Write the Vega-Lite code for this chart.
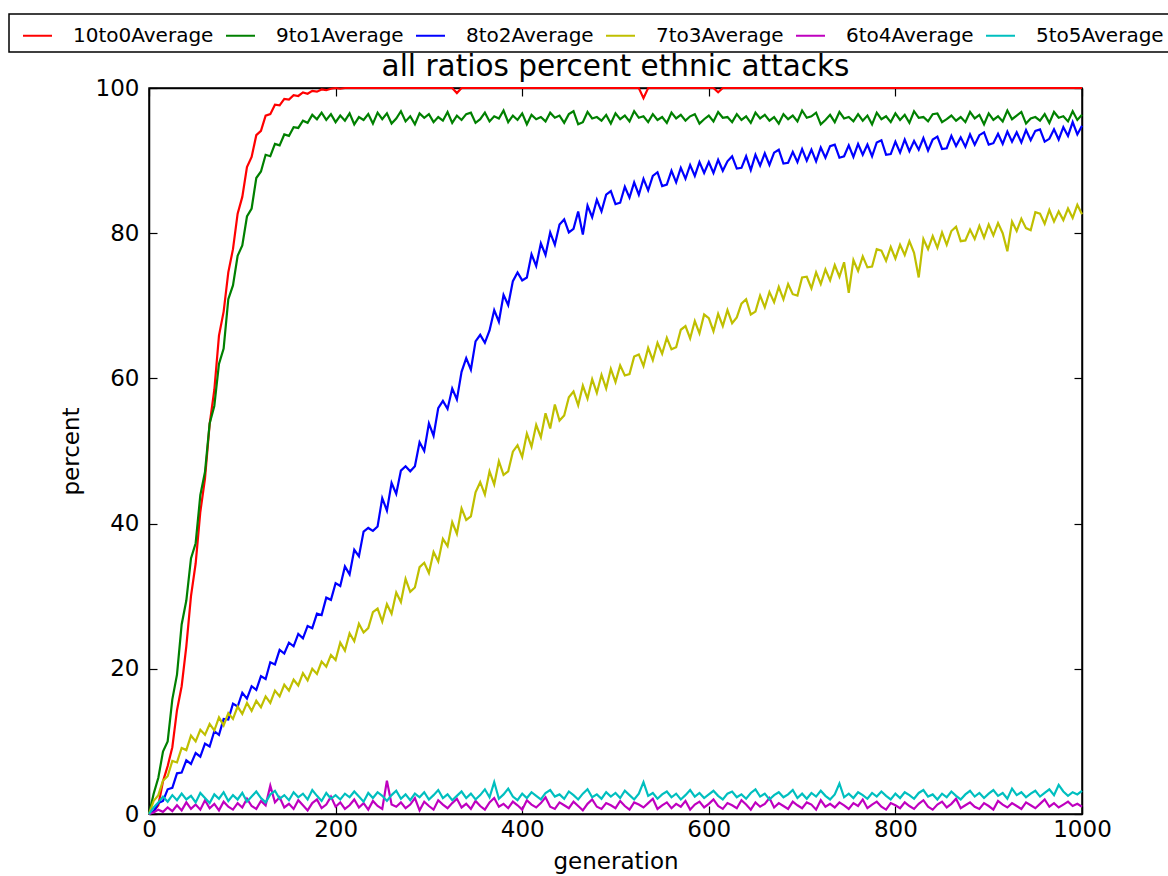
{
"$schema":"https://vega.github.io/schema/vega-lite/v6.json",
"width":933,"height":726,
"autosize":{"type":"none"},
"padding":{"left":149,"top":88,"right":86,"bottom":62},
"background":"white",
"config":{"font":"DejaVu Sans","view":{"stroke":"black","strokeWidth":1.5},
"axis":{"domainColor":"black","domainWidth":1.5,"tickColor":"black","tickSize":-8,"tickWidth":1.2,"labelFontSize":23,"labelColor":"black","labelFont":"DejaVu Sans","titleFont":"DejaVu Sans","titleFontSize":23,"titleFontWeight":"normal","titleColor":"black","grid":false,"labelFlush":false,"format":"d"}},
"title":{"text":"all ratios percent ethnic attacks","fontSize":29.5,"fontWeight":"normal","color":"black","font":"DejaVu Sans","offset":8,"dy":77,"frame":"group"},
"data":{"values":[
{"g":0,"r10":0,"r9":0,"r8":0,"r7":0,"r6":0,"r5":0},
{"g":5,"r10":0.4,"r9":2.8,"r8":0.3,"r7":1.8,"r6":0.2,"r5":0.9},
{"g":10,"r10":1.2,"r9":5.0,"r8":1.5,"r7":2.6,"r6":0.6,"r5":1.6},
{"g":15,"r10":4.5,"r9":8.6,"r8":1.8,"r7":4.6,"r6":0.3,"r5":2.4},
{"g":20,"r10":6.6,"r9":10.0,"r8":3.4,"r7":5.2,"r6":0.9,"r5":1.7},
{"g":25,"r10":9.2,"r9":15.8,"r8":3.6,"r7":7.3,"r6":0.4,"r5":2.6},
{"g":30,"r10":14.3,"r9":19.2,"r8":5.6,"r7":7.1,"r6":1.2,"r5":1.9},
{"g":35,"r10":17.6,"r9":26.1,"r8":5.7,"r7":9.1,"r6":0.5,"r5":2.8},
{"g":40,"r10":23.1,"r9":29.4,"r8":7.4,"r7":8.8,"r6":1.6,"r5":2.0},
{"g":45,"r10":30.0,"r9":35.2,"r8":6.9,"r7":10.8,"r6":0.7,"r5":2.5},
{"g":50,"r10":34.5,"r9":37.3,"r8":8.4,"r7":10.0,"r6":1.3,"r5":1.6},
{"g":55,"r10":41.6,"r9":43.9,"r8":7.9,"r7":11.6,"r6":0.6,"r5":2.9},
{"g":60,"r10":46.2,"r9":47.1,"r8":9.7,"r7":10.9,"r6":1.9,"r5":2.2},
{"g":65,"r10":53.7,"r9":53.8,"r8":9.3,"r7":12.4,"r6":0.8,"r5":1.5},
{"g":70,"r10":58.4,"r9":56.2,"r8":11.4,"r7":11.5,"r6":1.4,"r5":2.7},
{"g":75,"r10":65.9,"r9":62.0,"r8":10.9,"r7":13.3,"r6":0.5,"r5":2.1},
{"g":80,"r10":69.2,"r9":64.1,"r8":13.1,"r7":12.2,"r6":1.7,"r5":3.0},
{"g":85,"r10":74.6,"r9":70.9,"r8":13.0,"r7":13.9,"r6":1.0,"r5":1.8},
{"g":90,"r10":77.8,"r9":72.8,"r8":15.2,"r7":13.1,"r6":0.6,"r5":2.6},
{"g":95,"r10":82.7,"r9":76.9,"r8":14.8,"r7":14.8,"r6":1.5,"r5":2.0},
{"g":100,"r10":85.0,"r9":78.3,"r8":16.7,"r7":13.8,"r6":0.9,"r5":2.9},
{"g":105,"r10":89.1,"r9":82.3,"r8":15.9,"r7":15.3,"r6":2.1,"r5":1.7},
{"g":110,"r10":90.5,"r9":83.4,"r8":17.6,"r7":14.2,"r6":1.1,"r5":2.4},
{"g":115,"r10":93.5,"r9":87.6,"r8":17.1,"r7":15.6,"r6":0.7,"r5":3.1},
{"g":120,"r10":94.1,"r9":88.5,"r8":19.0,"r7":14.7,"r6":1.8,"r5":2.2},
{"g":125,"r10":96.2,"r9":90.8,"r8":18.6,"r7":16.2,"r6":1.2,"r5":1.6},
{"g":130,"r10":96.4,"r9":90.6,"r8":20.9,"r7":15.3,"r6":3.9,"r5":2.7},
{"g":135,"r10":97.7,"r9":92.3,"r8":20.6,"r7":17.0,"r6":1.6,"r5":3.2},
{"g":140,"r10":97.6,"r9":92.1,"r8":22.6,"r7":16.2,"r6":2.3,"r5":2.1},
{"g":145,"r10":98.5,"r9":93.6,"r8":22.1,"r7":17.8,"r6":0.9,"r5":2.6},
{"g":150,"r10":98.4,"r9":93.4,"r8":23.6,"r7":17.0,"r6":1.4,"r5":1.9},
{"g":155,"r10":99.0,"r9":94.6,"r8":23.1,"r7":18.5,"r6":0.7,"r5":3.0},
{"g":160,"r10":98.9,"r9":94.5,"r8":24.8,"r7":17.7,"r6":1.9,"r5":2.3},
{"g":165,"r10":99.4,"r9":95.5,"r8":24.2,"r7":19.4,"r6":1.2,"r5":2.8},
{"g":170,"r10":99.2,"r9":95.2,"r8":25.9,"r7":18.4,"r6":0.5,"r5":2.0},
{"g":175,"r10":99.6,"r9":96.3,"r8":25.6,"r7":20.0,"r6":1.5,"r5":3.3},
{"g":180,"r10":99.5,"r9":95.7,"r8":27.6,"r7":19.3,"r6":2.0,"r5":2.5},
{"g":185,"r10":99.8,"r9":96.6,"r8":27.4,"r7":21.0,"r6":0.8,"r5":1.8},
{"g":190,"r10":99.7,"r9":95.6,"r8":29.8,"r7":20.3,"r6":1.3,"r5":2.9},
{"g":195,"r10":99.9,"r9":96.4,"r8":29.5,"r7":21.9,"r6":2.4,"r5":2.1},
{"g":200,"r10":100,"r9":95.3,"r8":31.8,"r7":21.2,"r6":1.0,"r5":2.6},
{"g":205,"r10":99.9,"r9":96.2,"r8":31.4,"r7":23.6,"r6":1.6,"r5":2.0},
{"g":210,"r10":100,"r9":95.5,"r8":34.1,"r7":22.5,"r6":0.7,"r5":2.8},
{"g":215,"r10":100,"r9":96.5,"r8":33.0,"r7":24.9,"r6":1.2,"r5":2.3},
{"g":220,"r10":100,"r9":95.0,"r8":36.4,"r7":23.8,"r6":2.0,"r5":3.1},
{"g":225,"r10":100,"r9":96.0,"r8":35.5,"r7":26.2,"r6":0.9,"r5":2.4},
{"g":230,"r10":100,"r9":95.6,"r8":38.9,"r7":25.0,"r6":1.5,"r5":1.7},
{"g":235,"r10":100,"r9":96.4,"r8":39.4,"r7":25.6,"r6":0.6,"r5":2.9},
{"g":240,"r10":100,"r9":95.1,"r8":39.0,"r7":27.8,"r6":1.8,"r5":2.2},
{"g":245,"r10":100,"r9":96.6,"r8":39.6,"r7":28.3,"r6":1.1,"r5":3.0},
{"g":250,"r10":100,"r9":95.7,"r8":43.5,"r7":26.5,"r6":0.7,"r5":2.5},
{"g":255,"r10":100,"r9":96.5,"r8":41.8,"r7":28.9,"r6":4.6,"r5":1.8},
{"g":260,"r10":100,"r9":95.1,"r8":45.6,"r7":27.6,"r6":1.3,"r5":2.6},
{"g":265,"r10":100,"r9":95.8,"r8":44.1,"r7":30.5,"r6":1.0,"r5":3.2},
{"g":270,"r10":100,"r9":96.8,"r8":47.3,"r7":29.2,"r6":1.6,"r5":2.1},
{"g":275,"r10":100,"r9":95.4,"r8":47.9,"r7":32.4,"r6":0.8,"r5":2.7},
{"g":280,"r10":100,"r9":96.1,"r8":47.2,"r7":30.6,"r6":1.3,"r5":1.9},
{"g":285,"r10":100,"r9":95.0,"r8":47.9,"r7":31.2,"r6":2.2,"r5":2.8},
{"g":290,"r10":100,"r9":96.5,"r8":51.2,"r7":34.0,"r6":0.5,"r5":2.3},
{"g":295,"r10":100,"r9":95.9,"r8":50.0,"r7":34.6,"r6":1.7,"r5":3.0},
{"g":300,"r10":100,"r9":96.4,"r8":53.8,"r7":33.2,"r6":1.1,"r5":2.0},
{"g":305,"r10":100,"r9":95.3,"r8":52.1,"r7":36.1,"r6":0.6,"r5":2.6},
{"g":310,"r10":100,"r9":96.0,"r8":55.9,"r7":34.8,"r6":1.9,"r5":3.3},
{"g":315,"r10":100,"r9":95.5,"r8":56.9,"r7":37.9,"r6":1.3,"r5":2.2},
{"g":320,"r10":100,"r9":96.7,"r8":55.8,"r7":36.9,"r6":0.8,"r5":2.7},
{"g":325,"r10":100,"r9":95.2,"r8":58.6,"r7":40.2,"r6":1.5,"r5":1.9},
{"g":330,"r10":99.3,"r9":96.2,"r8":57.1,"r7":38.6,"r6":2.1,"r5":2.5},
{"g":335,"r10":100,"r9":95.6,"r8":60.9,"r7":42.1,"r6":0.9,"r5":3.1},
{"g":340,"r10":100,"r9":96.4,"r8":62.8,"r7":40.5,"r6":1.4,"r5":2.2},
{"g":345,"r10":100,"r9":96.6,"r8":61.2,"r7":41.0,"r6":0.7,"r5":2.8},
{"g":350,"r10":100,"r9":95.2,"r8":65.1,"r7":44.3,"r6":1.8,"r5":2.0},
{"g":355,"r10":100,"r9":95.7,"r8":66.0,"r7":45.7,"r6":1.1,"r5":2.6},
{"g":360,"r10":100,"r9":96.6,"r8":64.9,"r7":44.0,"r6":0.6,"r5":3.4},
{"g":365,"r10":100,"r9":95.4,"r8":66.6,"r7":47.2,"r6":1.6,"r5":2.3},
{"g":370,"r10":100,"r9":96.1,"r8":69.4,"r7":45.4,"r6":2.2,"r5":4.4},
{"g":375,"r10":100,"r9":95.8,"r8":67.8,"r7":48.6,"r6":1.0,"r5":2.1},
{"g":380,"r10":100,"r9":96.9,"r8":71.5,"r7":46.7,"r6":1.4,"r5":2.7},
{"g":385,"r10":100,"r9":95.3,"r8":70.1,"r7":47.2,"r6":0.8,"r5":3.5},
{"g":390,"r10":100,"r9":96.2,"r8":73.4,"r7":49.9,"r6":1.7,"r5":2.4},
{"g":395,"r10":100,"r9":95.6,"r8":74.6,"r7":50.8,"r6":1.2,"r5":1.9},
{"g":400,"r10":100,"r9":96.5,"r8":73.5,"r7":49.2,"r6":0.6,"r5":2.8},
{"g":405,"r10":100,"r9":95.0,"r8":73.9,"r7":52.4,"r6":1.9,"r5":2.2},
{"g":410,"r10":100,"r9":96.3,"r8":77.1,"r7":50.6,"r6":1.3,"r5":3.0},
{"g":415,"r10":100,"r9":95.7,"r8":75.5,"r7":53.6,"r6":0.9,"r5":2.5},
{"g":420,"r10":100,"r9":96.0,"r8":78.6,"r7":51.9,"r6":1.5,"r5":2.0},
{"g":425,"r10":100,"r9":95.4,"r8":77.0,"r7":55.2,"r6":2.3,"r5":2.9},
{"g":430,"r10":100,"r9":96.6,"r8":80.1,"r7":53.1,"r6":1.0,"r5":3.3},
{"g":435,"r10":100,"r9":95.9,"r8":78.4,"r7":56.4,"r6":0.7,"r5":2.4},
{"g":440,"r10":100,"r9":96.2,"r8":81.2,"r7":54.2,"r6":1.6,"r5":2.7},
{"g":445,"r10":100,"r9":95.2,"r8":81.9,"r7":54.9,"r6":1.2,"r5":2.1},
{"g":450,"r10":100,"r9":96.4,"r8":80.1,"r7":57.4,"r6":0.8,"r5":3.1},
{"g":455,"r10":100,"r9":96.8,"r8":80.6,"r7":58.2,"r6":1.7,"r5":2.6},
{"g":460,"r10":100,"r9":95.0,"r8":83.0,"r7":56.3,"r6":1.1,"r5":2.0},
{"g":465,"r10":100,"r9":95.3,"r8":79.8,"r7":59.0,"r6":0.5,"r5":2.8},
{"g":470,"r10":100,"r9":96.7,"r8":83.8,"r7":57.2,"r6":1.4,"r5":3.4},
{"g":475,"r10":100,"r9":95.8,"r8":82.2,"r7":59.9,"r6":2.0,"r5":2.3},
{"g":480,"r10":100,"r9":96.0,"r8":84.6,"r7":58.0,"r6":1.0,"r5":2.7},
{"g":485,"r10":100,"r9":95.5,"r8":83.0,"r7":60.5,"r6":0.7,"r5":2.1},
{"g":490,"r10":100,"r9":96.3,"r8":85.3,"r7":58.6,"r6":1.5,"r5":3.0},
{"g":495,"r10":100,"r9":95.1,"r8":85.8,"r7":61.3,"r6":1.2,"r5":2.4},
{"g":500,"r10":100,"r9":96.5,"r8":84.0,"r7":59.5,"r6":0.8,"r5":2.9},
{"g":505,"r10":100,"r9":95.7,"r8":84.2,"r7":61.8,"r6":1.8,"r5":2.2},
{"g":510,"r10":100,"r9":96.2,"r8":86.4,"r7":60.4,"r6":1.1,"r5":3.2},
{"g":515,"r10":100,"r9":95.4,"r8":84.9,"r7":60.6,"r6":0.6,"r5":2.6},
{"g":520,"r10":100,"r9":96.8,"r8":87.0,"r7":63.0,"r6":1.6,"r5":2.0},
{"g":525,"r10":100,"r9":95.9,"r8":85.3,"r7":63.3,"r6":1.3,"r5":2.8},
{"g":530,"r10":98.6,"r9":96.1,"r8":87.5,"r7":61.7,"r6":0.9,"r5":4.4},
{"g":535,"r10":100,"r9":95.3,"r8":85.9,"r7":64.2,"r6":1.5,"r5":2.5},
{"g":540,"r10":100,"r9":96.4,"r8":87.9,"r7":62.5,"r6":2.1,"r5":2.9},
{"g":545,"r10":100,"r9":95.6,"r8":88.4,"r7":64.9,"r6":0.7,"r5":2.1},
{"g":550,"r10":100,"r9":96.0,"r8":86.5,"r7":63.4,"r6":1.2,"r5":2.7},
{"g":555,"r10":100,"r9":95.2,"r8":86.7,"r7":65.6,"r6":1.6,"r5":3.1},
{"g":560,"r10":100,"r9":96.6,"r8":88.6,"r7":64.0,"r6":0.8,"r5":2.3},
{"g":565,"r10":100,"r9":95.8,"r8":87.0,"r7":64.3,"r6":1.4,"r5":2.8},
{"g":570,"r10":100,"r9":96.3,"r8":89.0,"r7":66.7,"r6":1.0,"r5":2.0},
{"g":575,"r10":100,"r9":95.5,"r8":87.5,"r7":67.2,"r6":1.8,"r5":2.6},
{"g":580,"r10":100,"r9":96.1,"r8":89.4,"r7":65.5,"r6":0.6,"r5":3.3},
{"g":585,"r10":100,"r9":96.4,"r8":87.9,"r7":67.9,"r6":1.3,"r5":2.4},
{"g":590,"r10":100,"r9":95.1,"r8":89.8,"r7":66.2,"r6":1.7,"r5":2.9},
{"g":595,"r10":100,"r9":95.7,"r8":88.3,"r7":68.8,"r6":0.9,"r5":2.2},
{"g":600,"r10":100,"r9":96.2,"r8":89.8,"r7":68.3,"r6":1.4,"r5":2.7},
{"g":605,"r10":100,"r9":95.4,"r8":88.3,"r7":66.5,"r6":2.0,"r5":3.2},
{"g":610,"r10":99.4,"r9":96.7,"r8":90.1,"r7":68.9,"r6":1.1,"r5":2.5},
{"g":615,"r10":100,"r9":95.9,"r8":88.6,"r7":67.2,"r6":0.7,"r5":2.0},
{"g":620,"r10":100,"r9":96.0,"r8":89.9,"r7":69.4,"r6":1.5,"r5":2.8},
{"g":625,"r10":100,"r9":95.3,"r8":90.6,"r7":67.6,"r6":1.2,"r5":3.1},
{"g":630,"r10":100,"r9":96.4,"r8":88.9,"r7":68.4,"r6":0.8,"r5":2.3},
{"g":635,"r10":100,"r9":95.6,"r8":89.0,"r7":70.3,"r6":1.9,"r5":2.7},
{"g":640,"r10":100,"r9":96.1,"r8":90.6,"r7":70.9,"r6":1.3,"r5":2.1},
{"g":645,"r10":100,"r9":95.2,"r8":88.7,"r7":68.8,"r6":0.6,"r5":2.9},
{"g":650,"r10":100,"r9":96.6,"r8":90.8,"r7":69.2,"r6":1.6,"r5":3.4},
{"g":655,"r10":100,"r9":95.8,"r8":89.3,"r7":71.4,"r6":1.0,"r5":2.4},
{"g":660,"r10":100,"r9":96.3,"r8":91.0,"r7":69.8,"r6":1.4,"r5":2.8},
{"g":665,"r10":100,"r9":95.5,"r8":89.4,"r7":71.9,"r6":2.2,"r5":2.0},
{"g":670,"r10":100,"r9":96.0,"r8":91.1,"r7":70.5,"r6":0.9,"r5":2.6},
{"g":675,"r10":100,"r9":95.1,"r8":91.5,"r7":72.6,"r6":1.5,"r5":3.0},
{"g":680,"r10":100,"r9":96.4,"r8":89.6,"r7":70.9,"r6":1.1,"r5":2.3},
{"g":685,"r10":100,"r9":95.7,"r8":89.7,"r7":73.0,"r6":0.7,"r5":2.7},
{"g":690,"r10":100,"r9":96.2,"r8":91.2,"r7":71.6,"r6":1.7,"r5":3.3},
{"g":695,"r10":100,"r9":95.4,"r8":89.8,"r7":71.4,"r6":1.2,"r5":2.2},
{"g":700,"r10":100,"r9":96.9,"r8":91.6,"r7":73.9,"r6":0.8,"r5":2.8},
{"g":705,"r10":100,"r9":95.9,"r8":90.0,"r7":74.0,"r6":1.6,"r5":2.1},
{"g":710,"r10":100,"r9":96.1,"r8":91.5,"r7":72.4,"r6":1.3,"r5":2.9},
{"g":715,"r10":100,"r9":96.6,"r8":89.9,"r7":74.6,"r6":0.6,"r5":2.4},
{"g":720,"r10":100,"r9":95.0,"r8":91.8,"r7":73.0,"r6":1.9,"r5":3.2},
{"g":725,"r10":100,"r9":95.6,"r8":90.4,"r7":75.0,"r6":1.0,"r5":2.5},
{"g":730,"r10":100,"r9":96.3,"r8":92.0,"r7":73.5,"r6":1.4,"r5":2.0},
{"g":735,"r10":100,"r9":95.3,"r8":92.2,"r7":75.6,"r6":0.9,"r5":2.7},
{"g":740,"r10":100,"r9":96.7,"r8":90.4,"r7":74.0,"r6":1.6,"r5":4.2},
{"g":745,"r10":100,"r9":95.8,"r8":90.6,"r7":76.0,"r6":1.2,"r5":2.3},
{"g":750,"r10":100,"r9":96.0,"r8":92.1,"r7":71.8,"r6":0.7,"r5":2.8},
{"g":755,"r10":100,"r9":95.4,"r8":90.5,"r7":76.3,"r6":1.5,"r5":2.2},
{"g":760,"r10":100,"r9":96.4,"r8":92.3,"r7":74.8,"r6":1.1,"r5":3.0},
{"g":765,"r10":100,"r9":95.5,"r8":90.8,"r7":76.8,"r6":2.0,"r5":2.6},
{"g":770,"r10":100,"r9":96.2,"r8":92.2,"r7":75.3,"r6":0.8,"r5":2.1},
{"g":775,"r10":100,"r9":95.0,"r8":90.6,"r7":75.4,"r6":1.3,"r5":2.9},
{"g":780,"r10":100,"r9":96.6,"r8":92.5,"r7":77.8,"r6":1.7,"r5":2.4},
{"g":785,"r10":100,"r9":95.7,"r8":92.8,"r7":77.6,"r6":1.0,"r5":3.1},
{"g":790,"r10":100,"r9":96.1,"r8":90.8,"r7":76.2,"r6":0.6,"r5":2.5},
{"g":795,"r10":100,"r9":95.3,"r8":90.9,"r7":78.1,"r6":1.5,"r5":2.0},
{"g":800,"r10":100,"r9":96.5,"r8":92.6,"r7":76.5,"r6":1.2,"r5":2.8},
{"g":805,"r10":100,"r9":95.6,"r8":91.1,"r7":78.4,"r6":0.8,"r5":2.2},
{"g":810,"r10":100,"r9":96.3,"r8":92.9,"r7":77.0,"r6":1.6,"r5":3.0},
{"g":815,"r10":100,"r9":95.2,"r8":91.3,"r7":78.9,"r6":1.1,"r5":2.6},
{"g":820,"r10":100,"r9":96.8,"r8":92.7,"r7":77.3,"r6":0.7,"r5":2.1},
{"g":825,"r10":100,"r9":95.9,"r8":91.5,"r7":73.9,"r6":1.4,"r5":2.9},
{"g":830,"r10":100,"r9":96.0,"r8":93.1,"r7":79.2,"r6":1.9,"r5":3.3},
{"g":835,"r10":100,"r9":95.4,"r8":91.4,"r7":77.8,"r6":1.0,"r5":2.4},
{"g":840,"r10":100,"r9":96.4,"r8":92.9,"r7":79.6,"r6":0.6,"r5":2.7},
{"g":845,"r10":100,"r9":96.5,"r8":93.3,"r7":78.0,"r6":1.3,"r5":2.0},
{"g":850,"r10":100,"r9":95.3,"r8":91.6,"r7":80.1,"r6":1.7,"r5":2.8},
{"g":855,"r10":100,"r9":95.7,"r8":91.7,"r7":78.4,"r6":0.9,"r5":2.3},
{"g":860,"r10":100,"r9":96.2,"r8":93.4,"r7":80.3,"r6":1.4,"r5":3.1},
{"g":865,"r10":100,"r9":95.5,"r8":92.0,"r7":80.9,"r6":2.1,"r5":2.5},
{"g":870,"r10":100,"r9":96.0,"r8":93.2,"r7":78.9,"r6":0.8,"r5":2.0},
{"g":875,"r10":100,"r9":95.3,"r8":91.9,"r7":79.0,"r6":1.2,"r5":2.7},
{"g":880,"r10":100,"r9":96.7,"r8":93.6,"r7":80.5,"r6":1.6,"r5":3.2},
{"g":885,"r10":100,"r9":95.8,"r8":92.2,"r7":79.2,"r6":1.0,"r5":2.4},
{"g":890,"r10":100,"r9":96.3,"r8":93.5,"r7":81.0,"r6":0.7,"r5":2.9},
{"g":895,"r10":100,"r9":95.0,"r8":93.9,"r7":79.4,"r6":1.5,"r5":2.2},
{"g":900,"r10":100,"r9":96.5,"r8":92.2,"r7":81.2,"r6":1.1,"r5":2.8},
{"g":905,"r10":100,"r9":95.6,"r8":92.4,"r7":79.7,"r6":0.6,"r5":3.3},
{"g":910,"r10":100,"r9":96.1,"r8":93.7,"r7":81.4,"r6":1.8,"r5":2.5},
{"g":915,"r10":100,"r9":95.4,"r8":92.3,"r7":80.0,"r6":1.3,"r5":2.9},
{"g":920,"r10":100,"r9":96.9,"r8":94.0,"r7":77.5,"r6":0.9,"r5":2.1},
{"g":925,"r10":100,"r9":95.7,"r8":92.6,"r7":81.6,"r6":1.5,"r5":3.5},
{"g":930,"r10":100,"r9":96.2,"r8":93.9,"r7":80.3,"r6":1.1,"r5":2.6},
{"g":935,"r10":100,"r9":96.7,"r8":92.5,"r7":82.0,"r6":0.7,"r5":3.0},
{"g":940,"r10":100,"r9":95.1,"r8":94.2,"r7":80.7,"r6":1.6,"r5":2.3},
{"g":945,"r10":100,"r9":95.8,"r8":92.8,"r7":80.4,"r6":1.2,"r5":2.8},
{"g":950,"r10":100,"r9":96.0,"r8":94.1,"r7":82.9,"r6":0.8,"r5":3.2},
{"g":955,"r10":100,"r9":95.5,"r8":94.3,"r7":82.7,"r6":1.4,"r5":2.4},
{"g":960,"r10":100,"r9":96.4,"r8":92.6,"r7":81.3,"r6":2.0,"r5":2.9},
{"g":965,"r10":100,"r9":95.2,"r8":93.0,"r7":83.2,"r6":1.0,"r5":3.4},
{"g":970,"r10":100,"r9":96.7,"r8":94.3,"r7":81.6,"r6":1.5,"r5":2.6},
{"g":975,"r10":100,"r9":95.9,"r8":92.9,"r7":83.0,"r6":0.9,"r5":4.0},
{"g":980,"r10":100,"r9":96.1,"r8":94.6,"r7":81.8,"r6":1.3,"r5":3.1},
{"g":985,"r10":100,"r9":95.4,"r8":93.4,"r7":83.4,"r6":1.7,"r5":2.5},
{"g":990,"r10":100,"r9":96.8,"r8":95.3,"r7":82.1,"r6":1.1,"r5":3.0},
{"g":995,"r10":100,"r9":95.6,"r8":93.6,"r7":83.9,"r6":1.4,"r5":2.7},
{"g":1000,"r10":100,"r9":96.3,"r8":94.8,"r7":82.6,"r6":1.0,"r5":3.2}
]},
"transform":[{"fold":["r10","r9","r8","r7","r6","r5"],"as":["ratio","percent"]}],
"layer":[
{"mark":{"type":"line","strokeWidth":2.2},
"encoding":{
"x":{"field":"g","type":"quantitative","scale":{"domain":[0,1000],"nice":false},"axis":{"title":"generation","values":[0,200,400,600,800,1000],"orient":"bottom","labelPadding":12,"titlePadding":9}},
"y":{"field":"percent","type":"quantitative","scale":{"domain":[0,100],"nice":false},"axis":{"title":"percent","values":[0,20,40,60,80,100],"orient":"left","labelPadding":18,"titlePadding":12}},
"color":{"field":"ratio","type":"nominal","sort":null,"scale":{"domain":["r10","r9","r8","r7","r6","r5"],"range":["#ff0000","#008000","#0000ff","#bfbf00","#bf00bf","#00bfbf"]},
"legend":{"orient":"none","legendX":-140,"legendY":-74,"direction":"horizontal","columns":6,"title":null,"symbolType":"stroke","symbolSize":841,"symbolStrokeWidth":2,"symbolOffset":7,"labelFontSize":20,"labelFont":"DejaVu Sans","labelColor":"black","labelOffset":20,"columnPadding":4,"padding":6,"strokeColor":"black","fillColor":"white","labelLimit":300,
"encode":{"legend":{"update":{"strokeWidth":{"value":1.5}}}},
"labelExpr":"{'r10':'10to0Average','r9':'9to1Average','r8':'8to2Average','r7':'7to3Average','r6':'6to4Average','r5':'5to5Average'}[datum.label]"}}
}},
{"mark":{"type":"line","opacity":0},
"encoding":{
"x":{"field":"g","type":"quantitative","axis":{"orient":"top","labels":false,"title":null,"values":[0,200,400,600,800,1000]}},
"y":{"field":"percent","type":"quantitative","axis":{"orient":"right","labels":false,"title":null,"values":[0,20,40,60,80,100]}},
"detail":{"field":"ratio"}
}}
],
"resolve":{"axis":{"x":"independent","y":"independent"}}
}
